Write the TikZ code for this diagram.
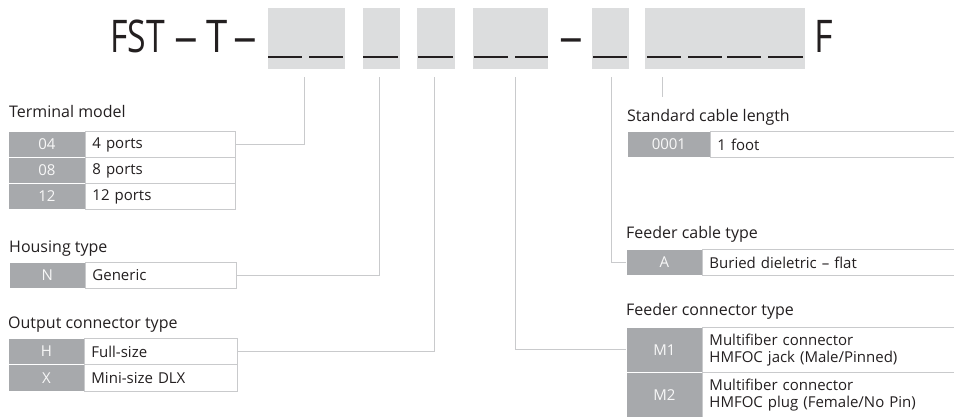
\documentclass[tikz,border=0pt]{standalone}
\usepackage{fontspec}
\setmainfont{Open Sans}
\usetikzlibrary{calc}
\definecolor{codegray}{HTML}{A7A9AC}
\definecolor{boxgray}{HTML}{DCDDDE}
\definecolor{linegray}{HTML}{C9CACC}
\definecolor{txt}{HTML}{231F20}
\tikzset{
  topbox/.style={fill=boxgray, draw=none, inner sep=0pt, anchor=north west},
  uscore/.style={line width=2.6pt, draw=txt},
  bigtxt/.style={font=\fontsize{45}{50}\selectfont, text=txt, inner sep=0pt},
  ttl/.style={font=\fontsize{16}{19}\selectfont, text=txt, inner sep=0pt, anchor=base west},
  codecell/.style={fill=codegray, draw=white, line width=0.8pt, text=white!92!codegray, inner sep=0pt, anchor=north west, font=\fontsize{15}{17}\selectfont},
  desccell/.style={fill=white, draw=linegray, line width=0.9pt, text=txt, inner sep=0pt, anchor=north west, font=\fontsize{15}{17}\selectfont, align=left, text width=#1},
  desccell/.default=130pt,
  link/.style={draw=linegray, line width=0.9pt},
}
\begin{document}
\begin{tikzpicture}[x=1pt,y=-1pt]
\useasboundingbox (0,0) rectangle (954,417);
\clip (0,0) rectangle (954,417);
% top code line
\node[bigtxt, anchor=base west] (fst) at (110,53) {\scalebox{0.75}[1]{FST}};
\node[bigtxt, anchor=base] (d1) at (186.5,53) {\scalebox{1.05}[1]{–}};
\node[bigtxt, anchor=base] (tt) at (217,53) {\scalebox{0.85}[1]{T}};
\node[bigtxt, anchor=base] (d2) at (245.5,53) {\scalebox{1.05}[1]{–}};
\node[bigtxt, anchor=base] (d3) at (571,53) {\scalebox{1.05}[1]{–}};
\node[bigtxt, anchor=base west] (ff) at (814,53) {\scalebox{0.8}[1]{F}};
\node[topbox, minimum width=77pt, minimum height=61pt] (b1) at (268,8) {};
\node[topbox, minimum width=37pt, minimum height=61pt] (b2) at (363,8) {};
\node[topbox, minimum width=38pt, minimum height=61pt] (b3) at (417,8) {};
\node[topbox, minimum width=75pt, minimum height=61pt] (b4) at (473,8) {};
\node[topbox, minimum width=37pt, minimum height=61pt] (b5) at (592,8) {};
\node[topbox, minimum width=160pt, minimum height=61pt] (b6) at (645,8) {};
\foreach \a/\b in {268/302,309/343,363/398,418/453,474/508,515/548,593/627,647/681,688/722,727/761,768/803}
  \draw[uscore] (\a,57) -- (\b,57);
% Terminal model
\node[ttl] (tm) at (9,118) {Terminal model};
\node[codecell, minimum width=77pt, minimum height=26pt] (c04) at (8,131) {04};
\node[codecell, minimum width=77pt, minimum height=26pt] (c08) at (8,157) {08};
\node[codecell, minimum width=77pt, minimum height=26pt] (c12) at (8,183) {12};
\node[desccell=136pt, minimum width=150pt, minimum height=26pt, inner xsep=7pt] (t04) at (85,131) {4 ports};
\node[desccell=136pt, minimum width=150pt, minimum height=26pt, inner xsep=7pt] (t08) at (85,157) {8 ports};
\node[desccell=136pt, minimum width=150pt, minimum height=26pt, inner xsep=7pt] (t12) at (85,183) {12 ports};
% Housing type
\node[ttl] (ht) at (9,252) {Housing type};
\node[codecell, minimum width=76pt, minimum height=26pt] (cn) at (9,262) {N};
\node[desccell=137pt, minimum width=151pt, minimum height=26pt, inner xsep=7pt] (tn) at (85,262) {Generic};
% Output connector type
\node[ttl] (oc) at (8,328) {Output connector type};
\node[codecell, minimum width=76pt, minimum height=26pt] (ch) at (8,338) {H};
\node[codecell, minimum width=76pt, minimum height=27pt] (cx) at (8,364) {X};
\node[desccell=139pt, minimum width=153pt, minimum height=26pt, inner xsep=7pt] (th) at (84,338) {Full-size};
\node[desccell=139pt, minimum width=153pt, minimum height=27pt, inner xsep=7pt] (tx) at (84,364) {Mini-size DLX};
% Standard cable length
\node[ttl] (sc) at (627,122) {Standard cable length};
\node[codecell, minimum width=83pt, minimum height=26pt] (c0001) at (627,131) {0001};
\node[desccell=236pt, minimum width=250pt, minimum height=26pt, inner xsep=7pt] (t0001) at (710,131) {1 foot};
% Feeder cable type
\node[ttl] (fc) at (626,238) {Feeder cable type};
\node[codecell, minimum width=76pt, minimum height=26pt] (ca) at (626,249) {A};
\node[desccell=244pt, minimum width=258pt, minimum height=26pt, inner xsep=7pt] (ta) at (702,249) {Buried dieletric – flat};
% Feeder connector type
\node[ttl] (fk) at (626,315) {Feeder connector type};
\node[codecell, minimum width=76pt, minimum height=45pt] (cm1) at (626,327) {M1};
\node[codecell, minimum width=76pt, minimum height=46pt] (cm2) at (626,372) {M2};
\node[desccell=244pt, minimum width=258pt, minimum height=45pt, inner xsep=7pt] (tm1) at (702,327) {Multifiber connector\\HMFOC jack (Male/Pinned)};
\node[desccell=244pt, minimum width=258pt, minimum height=46pt, inner xsep=7pt] (tm2) at (702,372) {Multifiber connector\\HMFOC plug (Female/No Pin)};
% connectors
\draw[link] ([shift={(36,8)}]b1.south west) |- (t04.east);
\draw[link] ([shift={(16,8)}]b2.south west) |- (tn.east);
\draw[link] ([shift={(17,8)}]b3.south west) |- (th.east);
\draw[link] ([shift={(42,8)}]b4.south west) |- (cm1.west);
\draw[link] ([shift={(19,8)}]b5.south west) |- (ca.west);
\coordinate (e6) at (662,97);
\draw[link] ([shift={(17,8)}]b6.south west) -- (e6);
\end{tikzpicture}
\end{document}
